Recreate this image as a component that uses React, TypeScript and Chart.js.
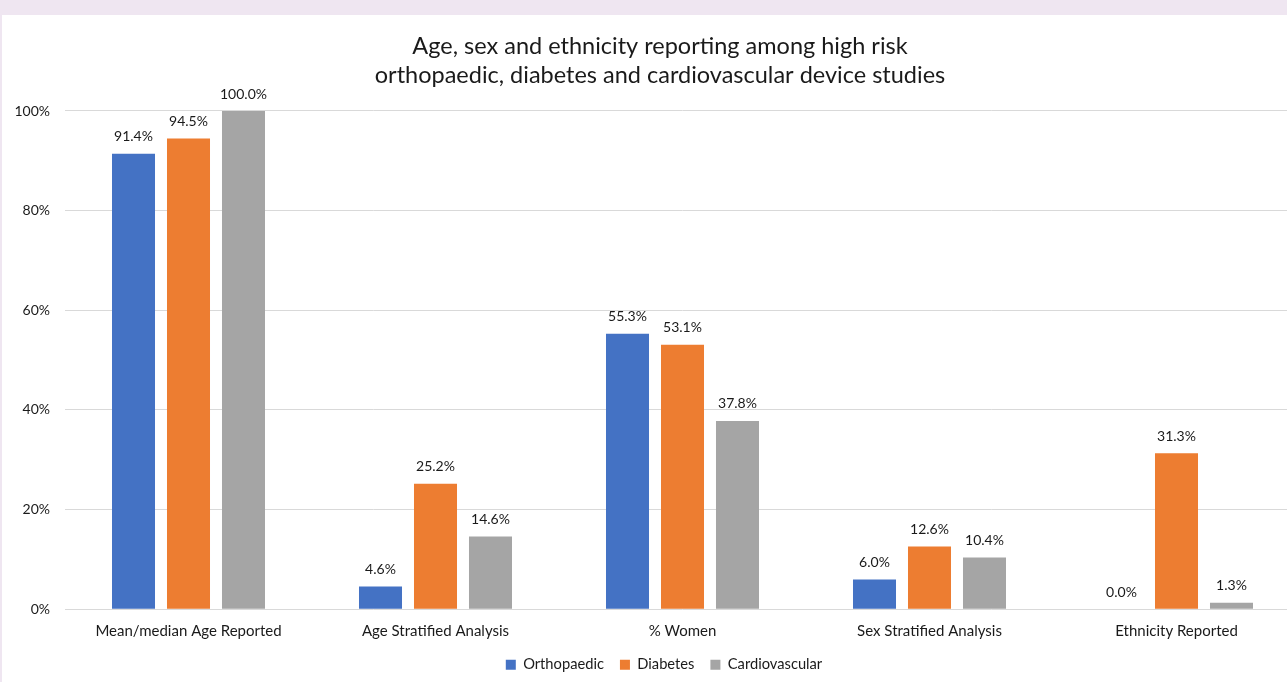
import React, { useEffect, useRef } from "react";
import { Chart, registerables } from "chart.js";

Chart.register(...registerables);

const categories = [
  "Mean/median Age Reported",
  "Age Stratified Analysis",
  "% Women",
  "Sex Stratified Analysis",
  "Ethnicity Reported",
];
const orthopaedic = [91.4, 4.6, 55.3, 6.0, 0.0];
const diabetes = [94.5, 25.2, 53.1, 12.6, 31.3];
const cardiovascular = [100.0, 14.6, 37.8, 10.4, 1.3];
const yTicks = [0, 20, 40, 60, 80, 100];
const titleLines = [
  "Age, sex and ethnicity reporting among high risk",
  "orthopaedic, diabetes and cardiovascular device studies",
];

const FONT = "Lato";
const TEXT = "#1a1a1a";

const dataLabels = {
  id: "dataLabels",
  afterLayout(chart: any) {
    const t = chart.titleBlock;
    if (t) t.left += 18;
    const l = chart.legend;
    if (l) l.left += 26;
  },
  afterDatasetsDraw(chart: any) {
    const ctx = chart.ctx;
    ctx.save();
    ctx.font = `14px ${FONT}`;
    ctx.fillStyle = TEXT;
    ctx.textAlign = "center";
    ctx.textBaseline = "bottom";
    chart.data.datasets.forEach((ds: any, i: number) => {
      const meta = chart.getDatasetMeta(i);
      meta.data.forEach((el: any, j: number) => {
        ctx.fillText(ds.data[j].toFixed(1) + "%", el.x, el.y - 10);
      });
    });
    ctx.restore();
  },
};

export default function App() {
  const ref = useRef<HTMLCanvasElement>(null);
  useEffect(() => {
    if (!ref.current) return;
    const chart = new Chart(ref.current, {
      type: "bar",
      data: {
        labels: categories,
        datasets: [
          { label: "Orthopaedic", data: orthopaedic, backgroundColor: "#4472C4" },
          { label: "Diabetes", data: diabetes, backgroundColor: "#ED7D31" },
          { label: "Cardiovascular", data: cardiovascular, backgroundColor: "#A5A5A5" },
        ],
      },
      options: {
        responsive: false,
        animation: false,
        devicePixelRatio: 1,
        datasets: { bar: { categoryPercentage: 0.668, barPercentage: 0.782 } },
        layout: { padding: { top: 0, left: 0, right: 0, bottom: 0 } },
        plugins: {
          title: {
            display: true,
            text: titleLines,
            color: TEXT,
            font: { family: FONT, size: 23.5, weight: "normal", lineHeight: 1.234 },
            padding: { top: 17, bottom: 21 },
          },
          legend: {
            position: "bottom",
            labels: {
              boxWidth: 10,
              boxHeight: 10,
              padding: 16,
              color: TEXT,
              font: { family: FONT, size: 14.7 },
            },
          },
          tooltip: { enabled: false },
        },
        scales: {
          x: {
            grid: { display: false, drawTicks: false },
            border: { display: false },
            ticks: { color: TEXT, font: { family: FONT, size: 15 }, padding: 13, maxRotation: 0 },
            afterFit: (s: any) => { s.height = 32; },
          },
          y: {
            min: 0,
            max: 100,
            afterBuildTicks: (s: any) => { s.ticks = yTicks.map((v) => ({ value: v })); },
            grid: { color: "#D9D9D9", drawTicks: false },
            border: { display: false },
            ticks: {
              color: TEXT,
              font: { family: FONT, size: 14 },
              padding: 15,
              callback: (v: any) => v + "%",
            },
            afterFit: (s: any) => { s.width = 63; },
          },
        },
      },
      plugins: [dataLabels],
    });
    return () => chart.destroy();
  }, []);

  return (
    <div style={{ position: "fixed", left: 0, top: 0, width: 1287, height: 682, overflow: "hidden", background: "#ffffff" }}>
      <div style={{ position: "absolute", left: 0, top: 0, width: 1287, height: 15, background: "#EFE6F1" }} />
      <div style={{ position: "absolute", left: 0, top: 15, width: 2, height: 667, background: "#EFE6F1" }} />
      <canvas ref={ref} width={1298} height={667} style={{ position: "absolute", left: 2, top: 15 }} />
    </div>
  );
}
